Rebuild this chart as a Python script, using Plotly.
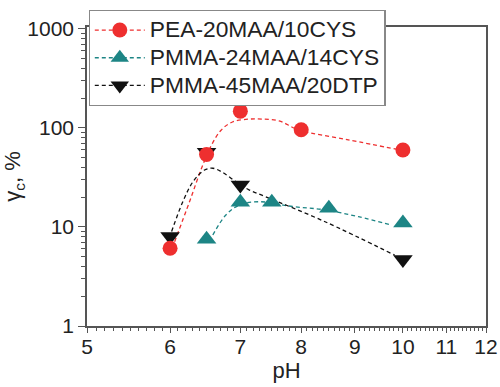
import numpy as np
import plotly.graph_objects as go

# ---- data ----
ph_pea = [6, 6.5, 7, 8, 10]
gc_pea = [6.1, 54, 148, 96, 60]
ph_pmma24 = [6.5, 7, 7.5, 8.5, 10]
gc_pmma24 = [7.5, 17.8, 17.8, 15.5, 11.0]
ph_pmma45 = [6, 6.5, 7, 10]
gc_pmma45 = [8.0, 57, 26.5, 4.7]

# fitted (dashed) guide curves
fit_pea_ph = [6.06, 6.26, 6.43, 6.57, 6.71, 6.88, 7.14, 7.34, 7.62, 7.96, 8.87, 9.94]
fit_pea_gc = [7.1, 17.9, 39.4, 67, 95, 115, 123, 123, 118, 95.5, 76, 60]
fit_pmma24_ph = [6.59, 6.78, 6.99, 7.30, 7.85, 8.43, 9.07, 9.75]
fit_pmma24_gc = [8.3, 13.2, 16.7, 18.0, 16.1, 14.9, 12.7, 10.5]
fit_pmma45_ph = [6.02, 6.17, 6.31, 6.47, 6.59, 6.73, 6.93, 7.14, 7.40, 8.43, 9.82]
fit_pmma45_gc = [9.0, 18, 28.7, 37.6, 39.2, 35.7, 28.7, 23.6, 20.2, 11.3, 5.2]

names = ["PEA-20MAA/10CYS", "PMMA-24MAA/14CYS", "PMMA-45MAA/20DTP"]
x_ticks = [5, 6, 7, 8, 9, 10, 11, 12]
y_ticks = [1, 10, 100, 1000]
y_tick_text = ["1", "10", "100", "1000"]

RED = "#ee2f2f"
TEAL = "#1d8585"
BLACK = "#111111"
FONT = "Liberation Sans, Arial, sans-serif"
AXC = "#555555"
TXT = "#222222"

styles = [
    dict(color=RED, symbol="circle", size=15),
    dict(color=TEAL, symbol="triangle-up", size=17),
    dict(color=BLACK, symbol="triangle-down", size=17),
]
fits = [(fit_pea_ph, fit_pea_gc), (fit_pmma24_ph, fit_pmma24_gc), (fit_pmma45_ph, fit_pmma45_gc)]
pts = [(ph_pea, gc_pea), (ph_pmma24, gc_pmma24), (ph_pmma45, gc_pmma45)]

fig = go.Figure()

# legend-only entries
for nm, st in zip(names, styles):
    fig.add_trace(go.Scatter(
        x=[None], y=[None], mode="lines+markers",
        name='<span style="font-size:22.8px">' + nm + "</span>",
        line=dict(color=st["color"], width=1.3, dash="4px,3px"),
        marker=dict(color=st["color"], symbol=st["symbol"], size=st["size"]),
    ))

# fit curves
for (fx, fy), st in zip(fits, styles):
    fig.add_trace(go.Scatter(
        x=fx, y=fy, mode="lines", showlegend=False, hoverinfo="skip",
        line=dict(color=st["color"], width=1.3, dash="4px,3px", shape="spline"),
    ))

# markers (teal, black, red drawing order)
for i in [1, 2, 0]:
    st = styles[i]
    px_, py_ = pts[i]
    fig.add_trace(go.Scatter(
        x=px_, y=py_, mode="markers", showlegend=False, name=names[i],
        marker=dict(color=st["color"], symbol=st["symbol"], size=st["size"]),
    ))

minor_x = [round(v, 1) for v in np.arange(5.0, 12.0, 0.1) if abs(v - round(v)) > 1e-6]
minor_y = [m * 10 ** d for d in range(0, 3) for m in range(2, 10)]

axis_common = dict(
    showline=True, linecolor=AXC, linewidth=1.5, mirror=True,
    ticks="outside", tickcolor=AXC, tickwidth=1.3,
    showgrid=False, zeroline=False, automargin=False,
    tickfont=dict(family=FONT, size=21, color=TXT),
)

fig.update_layout(
    width=500, height=387,
    margin=dict(l=86.5, r=14, t=27, b=61, autoexpand=False),
    paper_bgcolor="white", plot_bgcolor="white",
    font=dict(family=FONT, size=21, color=TXT),
    xaxis=dict(
        type="log", range=[np.log10(5), np.log10(12)],
        tickmode="array", tickvals=x_ticks, ticktext=[str(v) for v in x_ticks],
        ticklen=5, ticklabelstandoff=-4,
        minor=dict(tickmode="array", tickvals=minor_x, ticks="outside", ticklen=3,
                   tickcolor=AXC, tickwidth=1.2),
        title=dict(text="pH", font=dict(family=FONT, size=22, color=TXT), standoff=2),
        **axis_common,
    ),
    yaxis=dict(
        type="log", range=[0, 3.02],
        tickmode="array", tickvals=y_ticks, ticktext=y_tick_text,
        ticklen=7,
        minor=dict(tickmode="array", tickvals=minor_y, ticks="outside", ticklen=4,
                   tickcolor=AXC, tickwidth=1.2),
        title=dict(text="γ<sub>c</sub>, %", font=dict(family=FONT, size=22, color=TXT), standoff=6),
        **axis_common,
    ),
    legend=dict(
        x=0.004, y=1 + (27 - 10) / 299, xanchor="left", yanchor="top",
        bgcolor="white", bordercolor="#888888", borderwidth=1.2,
        font=dict(family=FONT, size=19, color=TXT),
        itemwidth=50, tracegroupgap=0,
    ),
    showlegend=True,
)

fig.write_html("out.html", config={"displayModeBar": False},
               post_script="document.body.style.margin='0';")
